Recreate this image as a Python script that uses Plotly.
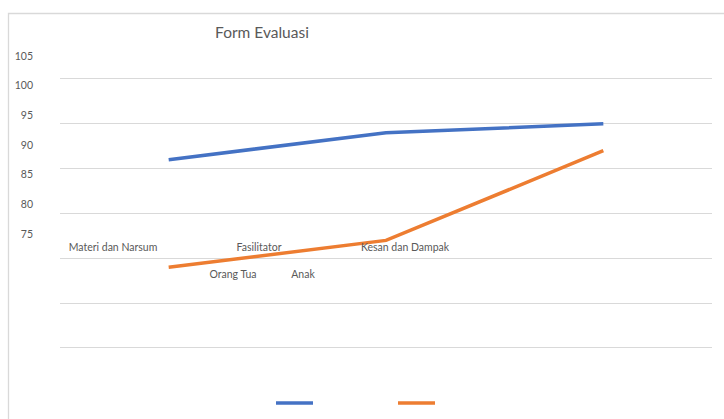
import plotly.graph_objects as go

W, H = 724, 419

categories = ["Materi dan Narsum", "Fasilitator", "Kesan dan Dampak"]
series_names = ["Orang Tua", "Anak"]
orang_tua = [96, 99, 100]
anak = [84, 87, 97]
y_ticks = [75, 80, 85, 90, 95, 100, 105]
colors = ["#4472C4", "#ED7D31"]

FONT = "Lato"
GRAY = "#595959"

def px_x(p):
    return p / W

def px_y(p):
    return 1 - p / H

fig = go.Figure()
for name, vals, col in zip(series_names, [orang_tua, anak], colors):
    fig.add_trace(go.Scatter(
        x=list(range(len(categories))), y=vals, name=name, mode="lines",
        line=dict(color=col, width=3.5), xaxis="x", yaxis="y",
    ))

# invisible helpers so the label axes get drawn
fig.add_trace(go.Scatter(x=[0], y=[90], xaxis="x2", yaxis="y2", mode="markers",
                         marker=dict(opacity=0), showlegend=False, hoverinfo="skip"))
fig.add_trace(go.Scatter(x=[0], y=[90], xaxis="x3", yaxis="y2", mode="markers",
                         marker=dict(opacity=0), showlegend=False, hoverinfo="skip"))

tickfont = dict(family=FONT, size=10.5, color=GRAY)

# main axis: 74.5..105.5 keeps edge grid lines away from the clip ends
PPU = 269 / 30.0
fig.update_layout(
    width=W, height=H,
    margin=dict(l=0, r=0, t=0, b=0),
    paper_bgcolor="white", plot_bgcolor="rgba(0,0,0,0)",
    title=dict(text="Form Evaluasi", x=px_x(262), xanchor="center",
               y=px_y(33), yanchor="middle",
               font=dict(family=FONT, size=15.5, color=GRAY)),
    showlegend=True,
    legend=dict(orientation="h", x=px_x(271), xanchor="left", y=px_y(403), yanchor="middle",
                entrywidth=70, entrywidthmode="pixels", itemwidth=37,
                font=dict(family=FONT, size=10, color="rgba(0,0,0,0)"),
                bgcolor="rgba(0,0,0,0)"),
    xaxis=dict(domain=[px_x(60), px_x(712)], range=[-0.5, 2.5], showgrid=False,
               zeroline=False, showline=False, showticklabels=False, ticks="",
               anchor="y", fixedrange=True),
    yaxis=dict(domain=[px_y(348 + 0.5 * PPU), px_y(79 - 0.5 * PPU)], range=[74.5, 105.5],
               tickmode="array", tickvals=y_ticks, showticklabels=False,
               showgrid=True, gridcolor="#d9d9d9", gridwidth=1.3, zeroline=False,
               showline=False, ticks="", anchor="x", fixedrange=True),
    xaxis2=dict(domain=[px_x(40), px_x(478)], range=[-0.5, 2.5],
                tickmode="array", tickvals=list(range(len(categories))), ticktext=categories,
                showgrid=False, zeroline=False, showline=False, ticks="",
                tickfont=tickfont, anchor="y2", fixedrange=True),
    yaxis2=dict(domain=[px_y(239.9), px_y(50.1)], range=[74, 106],
                tickmode="array", tickvals=y_ticks,
                showgrid=False, zeroline=False, showline=False, ticks="",
                tickfont=tickfont, anchor="free", position=px_x(33), side="left",
                fixedrange=True),
    xaxis3=dict(domain=[px_x(198), px_x(338)], range=[-0.5, 1.5],
                tickmode="array", tickvals=list(range(len(series_names))), ticktext=series_names,
                showgrid=False, zeroline=False, showline=False, ticks="",
                tickfont=tickfont, anchor="free", position=px_y(266), side="bottom",
                fixedrange=True),
    shapes=[dict(type="rect", xref="paper", yref="paper",
                 x0=px_x(8.5), x1=1.02, y0=-0.02, y1=px_y(13.5),
                 line=dict(color="#d9d9d9", width=1.3), fillcolor="rgba(0,0,0,0)")],
)

fig.write_html("out.html")
